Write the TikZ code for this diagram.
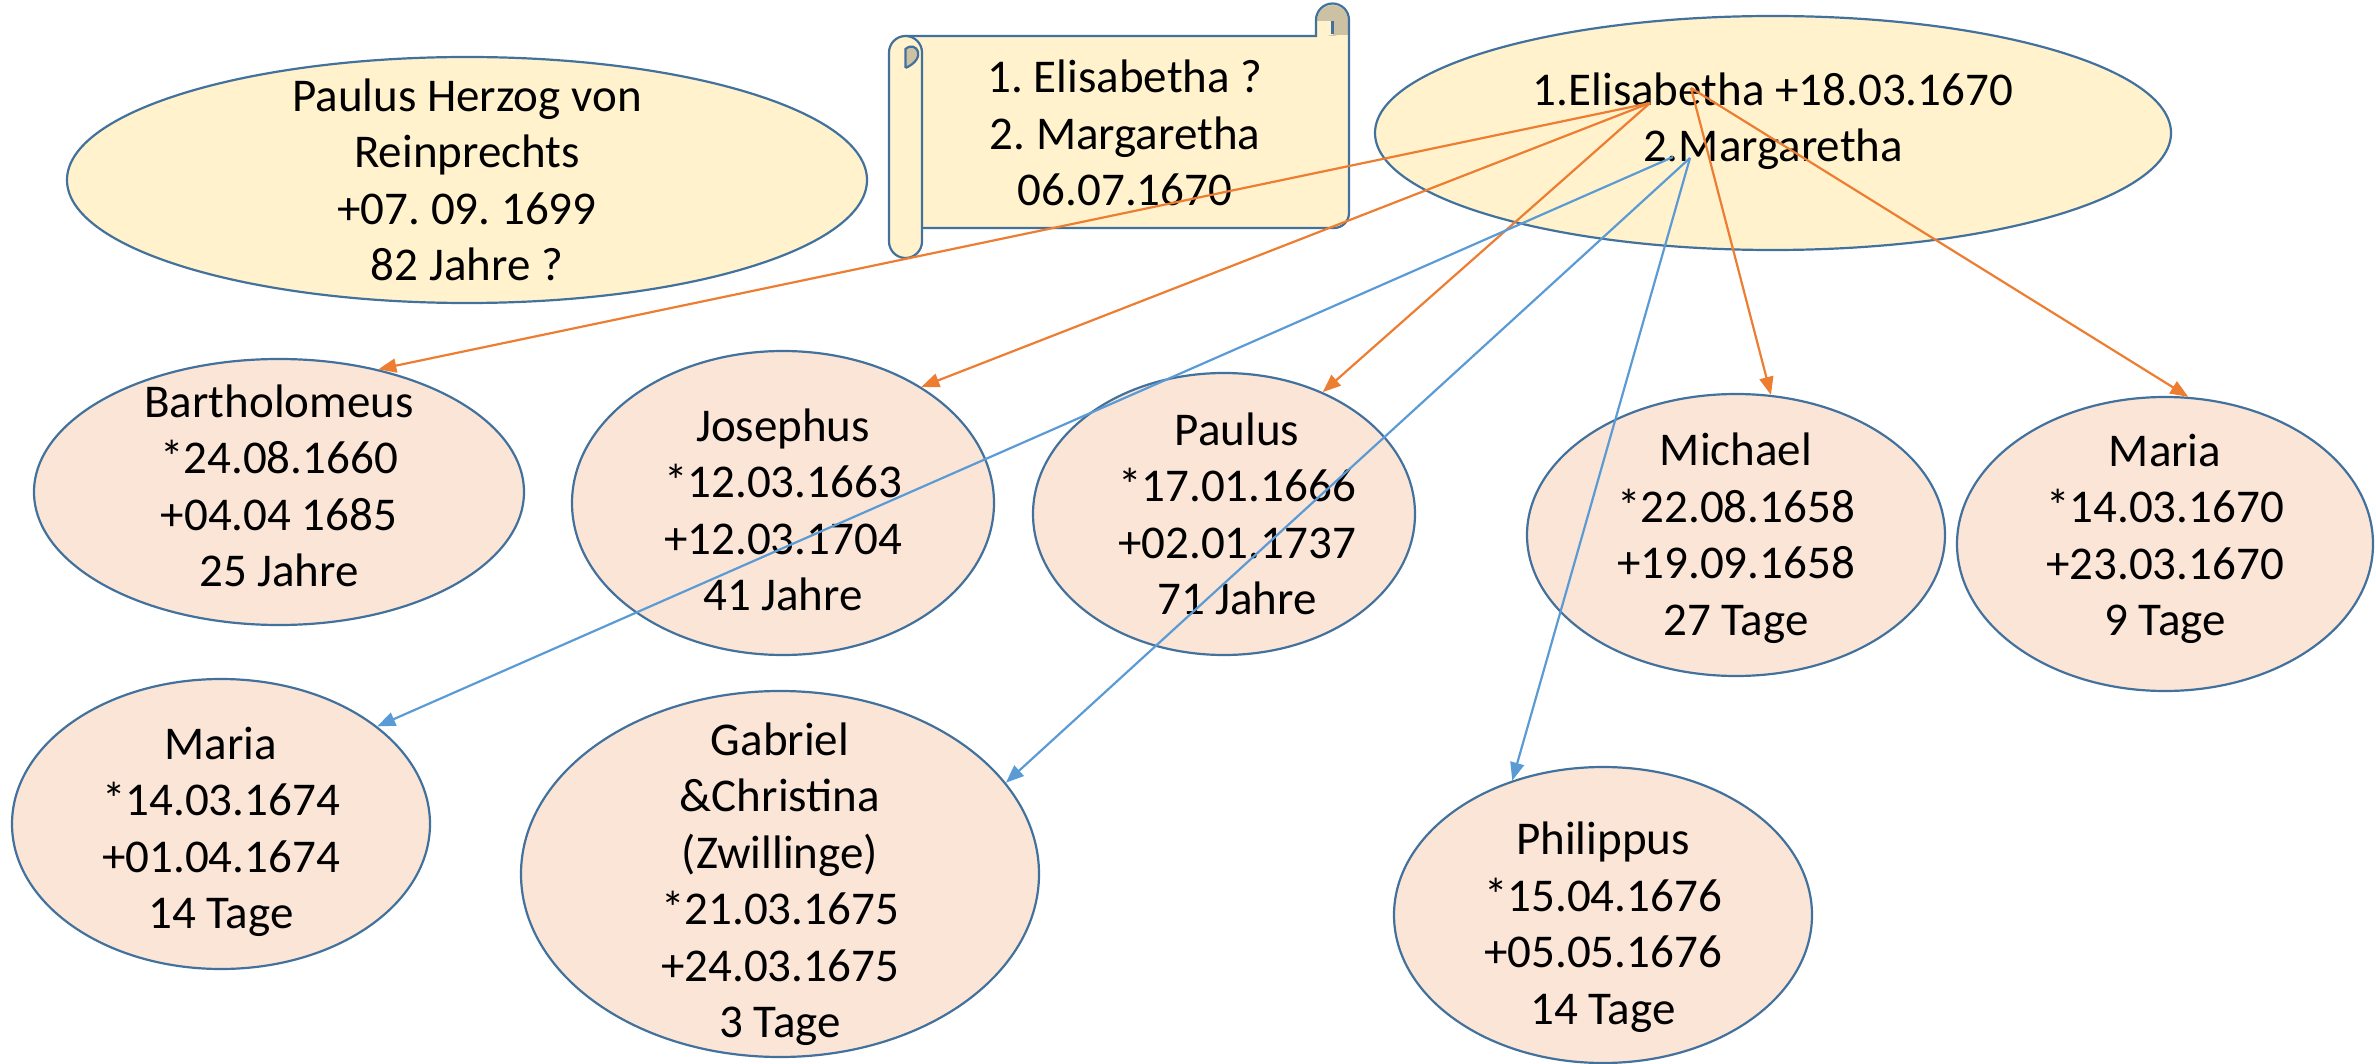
\documentclass[tikz,border=0pt]{standalone}
\usepackage{fontspec}
\setmainfont{Carlito}
\usepackage{tikz}
\usetikzlibrary{shapes,arrows.meta}
\usepackage{xcolor}
\frenchspacing

\definecolor{famfill}{RGB}{255,242,204}
\definecolor{kidfill}{RGB}{251,229,214}
\definecolor{rim}{RGB}{65,113,156}
\definecolor{elisline}{RGB}{237,125,49}
\definecolor{margline}{RGB}{91,155,213}
\definecolor{rolltan}{RGB}{204,193,163}

\tikzset{
  famnode/.style={ellipse, draw=rim, fill=famfill, line width=2.2pt, inner sep=0pt},
  kidnode/.style={ellipse, draw=rim, fill=kidfill, line width=2.2pt, inner sep=0pt},
  bio/.style={align=center, inner sep=0pt, font=\fontsize{47}{56.5}\selectfont},
  rollline/.style={draw=rim, line width=2.2pt},
  elis/.style={draw=elisline, line width=2.2pt, -{Triangle[length=18pt,width=14pt]}},
  marg/.style={draw=margline, line width=2.2pt, -{Triangle[length=18pt,width=14pt]}}
}

\begin{document}
\begin{tikzpicture}[x=1pt,y=-1pt]
\useasboundingbox (0,0) rectangle (2376,1064);

% parents
\node[famnode, minimum width=800, minimum height=246] (herzog) at (467,180) {};
\node[bio] (herzogT) at (467,180) {Paulus Herzog von\\Reinprechts\\+07. 09. 1699\\82 Jahre ?};

\node[famnode, minimum width=796, minimum height=234] (ehe) at (1773,133) {};
\node[bio] (eheT) at (1773,121) {1.Elisabetha +18.03.1670\\2.Margaretha};

% scroll
\path[fill=famfill] (905,36) -- (1316,36) -- (1316,20) arc[start angle=180, end angle=360, radius=16.5]
   -- (1349,213) arc[start angle=0, end angle=90, radius=15] -- (905,228) -- cycle;
\fill[rolltan] (1332.5,20.5) circle[radius=15.4];
\fill[rolltan] (1332.5,20.5) rectangle (1348,35);
\fill[famfill] (1317,21) rectangle (1332.5,35);
\draw[rollline] (905,36) -- (1316,36) -- (1316,20) arc[start angle=180, end angle=360, radius=16.5]
   -- (1349,213) arc[start angle=0, end angle=90, radius=15] -- (905,228);
\draw[rollline] (1332.5,21) -- (1332.5,34);
\draw[rollline, fill=famfill] (889,52.5) -- (889,241.5) arc[start angle=180, end angle=0, radius=16.5]
   -- (922,52.5) arc[start angle=0, end angle=-180, radius=16.5] -- cycle;
\filldraw[rollline, fill=rolltan] (905.5,68) -- (905.5,49) .. controls (916,40) and (928,58) .. (905.5,68);
\node[bio] (rolleT) at (1125,133) {1. Elisabetha ?\\2. Margaretha\\06.07.1670};

% children
\node[kidnode, minimum width=490, minimum height=266] (barth) at (279,492) {};
\node[bio] (barthT) at (279,486) {Bartholomeus\\*24.08.1660\\+04.04 1685\\25 Jahre};
\node[kidnode, minimum width=422, minimum height=304] (joseph) at (783,503) {};
\node[bio] (josephT) at (783,510) {Josephus\\*12.03.1663\\+12.03.1704\\41 Jahre};
\node[kidnode, minimum width=382, minimum height=282] (paulus) at (1224,514) {};
\node[bio] (paulusT) at (1237,514) {Paulus\\*17.01.1666\\+02.01.1737\\71 Jahre};
\node[kidnode, minimum width=418, minimum height=282] (michael) at (1736,535) {};
\node[bio] (michaelT) at (1736,538) {Michael\\*22.08.1658\\+19.09.1658\\27 Tage};
\node[kidnode, minimum width=416, minimum height=294] (mariaB) at (2165,544) {};
\node[bio] (mariaBT) at (2165,539) {Maria\\*14.03.1670\\+23.03.1670\\9 Tage};
\node[kidnode, minimum width=418, minimum height=290] (mariaA) at (221,824) {};
\node[bio] (mariaAT) at (221,832) {Maria\\*14.03.1674\\+01.04.1674\\14 Tage};
\node[kidnode, minimum width=518, minimum height=366] (gabriel) at (780,874) {};
\node[bio] (gabrielT) at (780,884) {Gabriel\\\&Christina\\(Zwillinge)\\*21.03.1675\\+24.03.1675\\3 Tage};
\node[kidnode, minimum width=418, minimum height=296] (philipp) at (1603,915) {};
\node[bio] (philippT) at (1603,927) {Philippus\\*15.04.1676\\+05.05.1676\\14 Tage};

% connectors
\coordinate (elisA) at (1650,103);
\coordinate (elisB) at (1691,88);
\coordinate (margA) at (1673,157);
\coordinate (margB) at (1690,158);

\draw[elis] (elisA) -- (barth.51.5);
\draw[elis] (elisA) -- (joseph.40.2);
\draw[elis] (elisA) -- (paulus.51.7);
\draw[elis] (elisB) -- (michael.76.9);
\draw[elis] (elisB) -- (mariaB.81.5);
\draw[marg] (margA) -- (mariaA.32.2);
\draw[marg] (margB) -- (gabriel.22.4);
\draw[marg] (margB) -- (philipp.124.2);
\end{tikzpicture}
\end{document}
